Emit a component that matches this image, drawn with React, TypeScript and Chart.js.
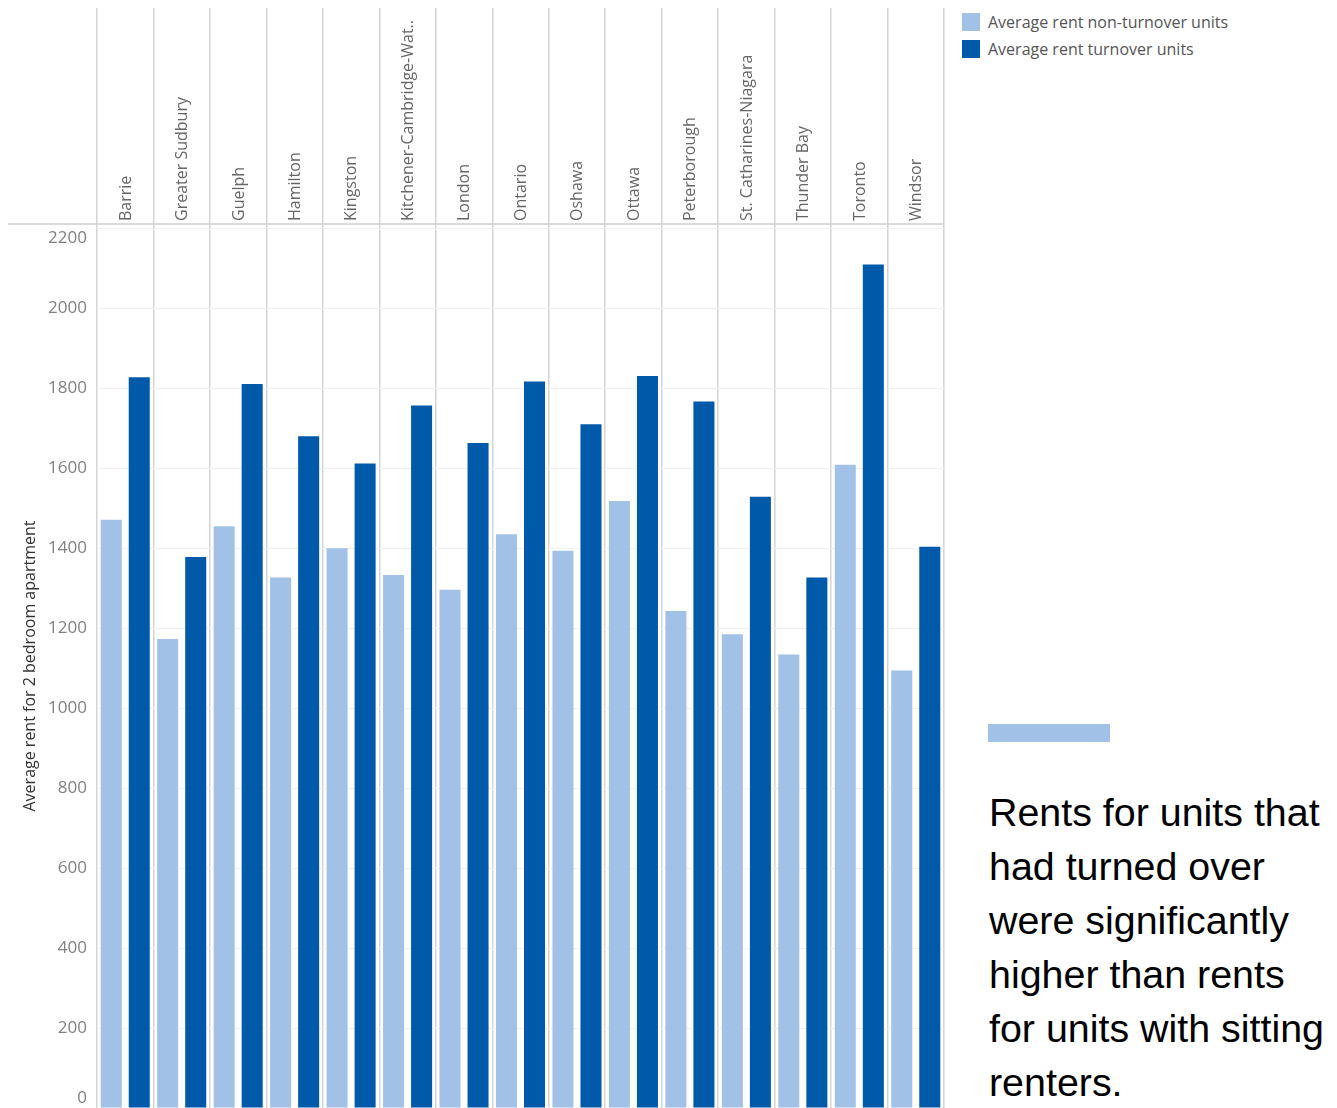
import React, { useEffect, useRef } from 'react';
import { Chart, registerables } from 'chart.js';

Chart.register(...registerables);

const categories = [
  'Barrie',
  'Greater Sudbury',
  'Guelph',
  'Hamilton',
  'Kingston',
  'Kitchener-Cambridge-Wat..',
  'London',
  'Ontario',
  'Oshawa',
  'Ottawa',
  'Peterborough',
  'St. Catharines-Niagara',
  'Thunder Bay',
  'Toronto',
  'Windsor',
];

const nonTurnoverRent = [1471, 1173, 1455, 1327, 1400, 1333, 1296, 1435, 1394, 1518, 1243, 1185, 1134, 1609, 1094];
const turnoverRent = [1828, 1378, 1811, 1680, 1612, 1757, 1663, 1817, 1710, 1831, 1767, 1529, 1327, 2110, 1404];

const seriesLabels = ['Average rent non-turnover units', 'Average rent turnover units'];
const seriesColors = ['#a2c1e6', '#005aa9'];

const yAxisTitle = 'Average rent for 2 bedroom apartment';
const yTickValues = [0, 200, 400, 600, 800, 1000, 1200, 1400, 1600, 1800, 2000, 2200];
const yScaleMax = 2211;

const noteLines = [
  'Rents for units that',
  'had turned over',
  'were significantly',
  'higher than rents',
  'for units with sitting',
  'renters.',
];

const FONT = "'Open Sans', 'DejaVu Sans', sans-serif";

const headerLinePlugin = {
  id: 'headerLine',
  afterDraw(chart: any) {
    const ctx = chart.ctx;
    const a = chart.chartArea;
    ctx.save();
    ctx.strokeStyle = '#cfcfcf';
    ctx.lineWidth = 1.5;
    ctx.beginPath();
    ctx.moveTo(8, a.top);
    ctx.lineTo(a.right, a.top);
    ctx.stroke();
    ctx.restore();
  },
};

export default function App() {
  const canvasRef = useRef<HTMLCanvasElement | null>(null);

  useEffect(() => {
    if (!canvasRef.current) return;
    const chart = new Chart(canvasRef.current, {
      type: 'bar',
      data: {
        labels: categories,
        datasets: [
          {
            label: seriesLabels[0],
            data: nonTurnoverRent,
            backgroundColor: seriesColors[0],
            categoryPercentage: 0.993,
            barPercentage: 0.75,
          },
          {
            label: seriesLabels[1],
            data: turnoverRent,
            backgroundColor: seriesColors[1],
            categoryPercentage: 0.993,
            barPercentage: 0.75,
          },
        ],
      },
      options: {
        responsive: false,
        animation: false,
        layout: { padding: { left: 0, right: 1, top: 0, bottom: 0 } },
        plugins: {
          legend: { display: false },
          tooltip: { enabled: false },
        },
        scales: {
          x: {
            position: 'top',
            grid: {
              display: true,
              offset: true,
              color: '#d4d4d4',
              lineWidth: 1.5,
              drawTicks: true,
              tickLength: 216,
              tickColor: '#d4d4d4',
            },
            border: { display: false },
            ticks: {
              autoSkip: false,
              maxRotation: 90,
              minRotation: 90,
              padding: -213,
              labelOffset: 20,
              color: '#666666',
              font: { family: FONT, size: 16 },
            },
            afterFit: (scale: any) => {
              scale.height = 224;
              scale.paddingLeft = 0;
              scale.paddingRight = 0;
            },
          },
          y: {
            min: 0,
            max: yScaleMax,
            grid: { color: '#f0f0f0', lineWidth: 1, drawTicks: false },
            border: { display: false },
            afterBuildTicks: (scale: any) => {
              scale.ticks = yTickValues.map((v) => ({ value: v }));
            },
            ticks: {
              padding: 10,
              color: '#808080',
              font: { family: FONT, size: 17 },
              callback: (v: any) => {
                if (v === 0) return [String(v), ''];
                if (v === yTickValues[yTickValues.length - 1]) return ['', String(v)];
                return String(v);
              },
            },
            title: {
              display: true,
              text: yAxisTitle,
              color: '#333333',
              font: { family: FONT, size: 16 },
              padding: { top: 21, bottom: 0 },
            },
            afterFit: (scale: any) => {
              scale.width = 97;
              scale.paddingTop = 0;
              scale.paddingBottom = 0;
            },
          },
        },
      },
      plugins: [headerLinePlugin],
    });
    return () => chart.destroy();
  }, []);

  return (
    <div style={{ position: 'absolute', left: 0, top: 0, width: 1337, height: 1108, overflow: 'hidden', background: '#fff' }}>
      <canvas ref={canvasRef} width={945} height={1108} style={{ position: 'absolute', left: 0, top: 0, width: 945, height: 1108 }} />
      <div style={{ position: 'absolute', left: 962, top: 8, fontFamily: FONT, fontSize: 16, color: '#555' }}>
        {seriesLabels.map((l, i) => (
          <div key={l} style={{ display: 'flex', alignItems: 'center', height: 27 }}>
            <span style={{ display: 'inline-block', width: 18, height: 18, background: seriesColors[i], marginRight: 8 }} />
            <span style={{ whiteSpace: 'nowrap' }}>{l}</span>
          </div>
        ))}
      </div>
      <div style={{ position: 'absolute', left: 988, top: 724, width: 122, height: 18, background: seriesColors[0] }} />
      <div style={{ position: 'absolute', left: 989, top: 785, fontFamily: "'Liberation Sans', Arial, sans-serif", fontSize: 39.4, lineHeight: '54px', color: '#000' }}>
        {noteLines.map((t) => (
          <div key={t} style={{ whiteSpace: 'nowrap' }}>{t}</div>
        ))}
      </div>
    </div>
  );
}
